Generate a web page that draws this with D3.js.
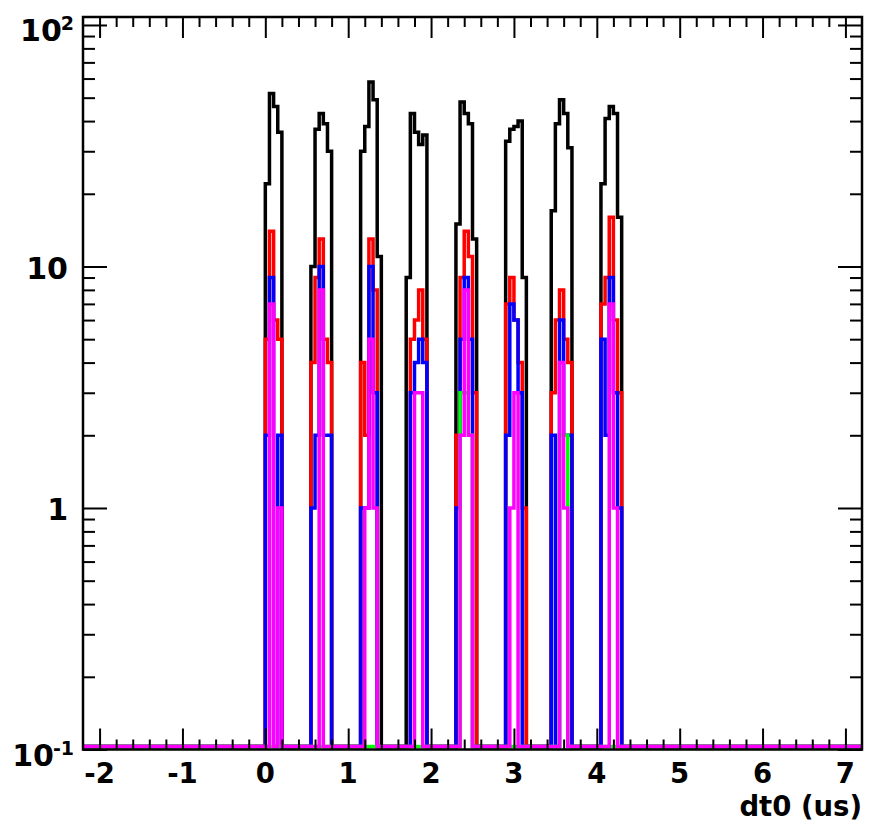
<!DOCTYPE html>
<html>
<head>
<meta charset="utf-8">
<script src="https://cdn.jsdelivr.net/npm/d3@7/dist/d3.min.js"></script>
<style>
  body { margin: 0; background: #fff; }
  svg { display: block; }
  text { font-family: "DejaVu Sans", sans-serif; font-weight: bold; fill: #000; }
</style>
</head>
<body>
<svg id="chart" width="877" height="829"></svg>
<script>
// Histogram binning and axis ranges
const binWidth = 0.05;
const xRange = [-2.2, 7.2];
const yRange = [0.1, 107.9];
const xTickValues = [-2, -1, 0, 1, 2, 3, 4, 5, 6, 7];
const yTickLabels = [
  { v: 0.1, base: "10", sup: "-1" },
  { v: 1, base: "1" },
  { v: 10, base: "10" },
  { v: 100, base: "10", sup: "2" }
];
const xTitle = "dt0 (us)";

// Bin contents: [lower bin edge (us), entries]; bins not listed are empty
const blackCounts = [
  [0.00, 22], [0.05, 52], [0.10, 46], [0.15, 36],
  [0.55, 10], [0.60, 37], [0.65, 43], [0.70, 39], [0.75, 30],
  [1.15, 30], [1.20, 38], [1.25, 58], [1.30, 49], [1.35, 11],
  [1.70, 9], [1.75, 43], [1.80, 36], [1.85, 32], [1.90, 35],
  [2.30, 15], [2.35, 48], [2.40, 43], [2.45, 39], [2.50, 13],
  [2.90, 33], [2.95, 37], [3.00, 38], [3.05, 40], [3.10, 9],
  [3.45, 17], [3.50, 39], [3.55, 49], [3.60, 43], [3.65, 31],
  [4.05, 22], [4.10, 41], [4.15, 46], [4.20, 43], [4.25, 16]
];
const redCounts = [
  [0.00, 5], [0.05, 14], [0.10, 6], [0.15, 5],
  [0.55, 4], [0.60, 9], [0.65, 13], [0.70, 5], [0.75, 4],
  [1.15, 4], [1.20, 2], [1.25, 13], [1.30, 8],
  [1.75, 5], [1.80, 6], [1.85, 8], [1.90, 5],
  [2.30, 2], [2.35, 9], [2.40, 14], [2.45, 11], [2.50, 3],
  [2.90, 7], [2.95, 9], [3.00, 6], [3.05, 4], [3.10, 1],
  [3.45, 3], [3.50, 6], [3.55, 8], [3.60, 5], [3.65, 4],
  [4.05, 7], [4.10, 9], [4.15, 16], [4.20, 6], [4.25, 3]
];
const blueCounts = [
  [0.00, 2], [0.05, 9], [0.15, 2],
  [0.55, 1], [0.60, 2], [0.65, 10], [0.70, 2], [0.75, 2],
  [1.15, 1], [1.20, 1], [1.25, 10], [1.30, 3],
  [1.75, 3], [1.80, 4], [1.85, 5], [1.90, 4],
  [2.30, 1], [2.35, 5], [2.40, 9], [2.45, 5],
  [2.90, 2], [2.95, 7], [3.00, 6], [3.05, 3],
  [3.45, 2], [3.55, 6], [3.60, 2], [3.65, 2],
  [4.05, 5], [4.10, 2], [4.15, 9], [4.20, 3], [4.25, 1]
];
const greenCounts = [
  [2.35, 3], [2.40, 3], [2.45, 2],
  [3.55, 2], [3.60, 2]
];
const magentaCounts = [
  [0.05, 7], [0.15, 1],
  [0.65, 8],
  [1.20, 1], [1.25, 5], [1.30, 1],
  [1.80, 3], [1.85, 3],
  [2.35, 2], [2.40, 8], [2.45, 2],
  [2.95, 1], [3.00, 3],
  [3.55, 4], [3.60, 1],
  [4.15, 7], [4.20, 1]
];

const series = [
  { name: "all", color: "#000000", data: blackCounts },
  { name: "red", color: "#ff0000", data: redCounts },
  { name: "blue", color: "#0000ff", data: blueCounts },
  { name: "green", color: "#00ff00", data: greenCounts },
  { name: "magenta", color: "#ff00ff", data: magentaCounts }
];

const frame = { left: 83, right: 862, top: 17, bottom: 749.5 };
const svg = d3.select("#chart");

const x = d3.scaleLinear().domain(xRange).range([frame.left, frame.right]);
const y = d3.scaleLog().domain(yRange).range([frame.bottom, frame.top]);

// Full bin array for a series
const nBins = Math.round((xRange[1] - xRange[0]) / binWidth);
function fillBins(pairs) {
  const arr = new Array(nBins).fill(0);
  pairs.forEach(([lo, n]) => { arr[Math.round((lo - xRange[0]) / binWidth)] = n; });
  return arr;
}
// Empty bins sit on the bottom of the log frame
const floorY = y(yRange[0]) - 3;
function stepPoints(arr) {
  const pts = arr.map((n, i) => [x(xRange[0] + i * binWidth), n > 0 ? y(n) : floorY]);
  pts.push([x(xRange[1]), pts[pts.length - 1][1]]);
  return pts;
}
const stepLine = d3.line().curve(d3.curveStepAfter);

const histG = svg.append("g");
series.forEach(s => {
  histG.append("path")
    .attr("d", stepLine(stepPoints(fillBins(s.data))))
    .attr("fill", "none")
    .attr("stroke", s.color)
    .attr("stroke-width", 3.5)
    .attr("stroke-linejoin", "miter")
    .attr("stroke-linecap", "butt");
});

// Frame
svg.append("rect")
  .attr("x", frame.left).attr("y", frame.top)
  .attr("width", frame.right - frame.left)
  .attr("height", frame.bottom - frame.top)
  .attr("fill", "none").attr("stroke", "#000").attr("stroke-width", 2.5);

// Tick marks on all four sides, pointing inwards
const xMinor = d3.range(-21, 72).map(k => k / 10).filter(v => Math.abs(v * 5 - Math.round(v * 5)) < 1e-9)
  .filter(v => v > xRange[0] + 1e-6 && v < xRange[1] - 1e-6 && Math.abs(v - Math.round(v)) > 1e-6);
const yMajor = yTickLabels.map(d => d.v);
const yMinor = [];
[0.1, 1, 10].forEach(dec => { for (let k = 2; k <= 9; k++) yMinor.push(+(k * dec).toPrecision(3)); });

function drawTicks(axis, values, size, tx, ty) {
  svg.append("g")
    .attr("transform", `translate(${tx},${ty})`)
    .call(axis.tickValues(values).tickSize(size).tickFormat(() => ""))
    .call(g => g.select(".domain").remove())
    .selectAll("line").attr("stroke", "#000").attr("stroke-width", 2);
}
drawTicks(d3.axisBottom(x), xTickValues, -21, 0, frame.bottom);
drawTicks(d3.axisBottom(x), xMinor, -10, 0, frame.bottom);
drawTicks(d3.axisTop(x), xTickValues, -21, 0, frame.top);
drawTicks(d3.axisTop(x), xMinor, -10, 0, frame.top);
drawTicks(d3.axisLeft(y), yMajor, -24, frame.left, 0);
drawTicks(d3.axisLeft(y), yMinor, -12, frame.left, 0);
drawTicks(d3.axisRight(y), yMajor, -24, frame.right, 0);
drawTicks(d3.axisRight(y), yMinor, -12, frame.right, 0);

// X tick labels
svg.append("g").selectAll("text")
  .data(xTickValues)
  .join("text")
  .attr("x", d => x(d))
  .attr("y", 783)
  .attr("text-anchor", "middle")
  .attr("font-size", 27.5)
  .text(d => d);

// Y tick labels (powers of ten)
yTickLabels.forEach(d => {
  const t = svg.append("text")
    .attr("text-anchor", "end")
    .attr("font-size", 30);
  if (d.sup) {
    t.attr("x", 74).attr("y", y(d.v) + 16);
    t.append("tspan").text(d.base);
    t.append("tspan").attr("font-size", 19).attr("dx", -1).attr("dy", -11).text(d.sup);
  } else {
    t.attr("x", 68).attr("y", y(d.v) + 12.5).text(d.base);
  }
});

// X axis title
svg.append("text")
  .attr("x", frame.right)
  .attr("y", 816)
  .attr("text-anchor", "end")
  .attr("font-size", 27.5)
  .text(xTitle);
</script>
</body>
</html>
